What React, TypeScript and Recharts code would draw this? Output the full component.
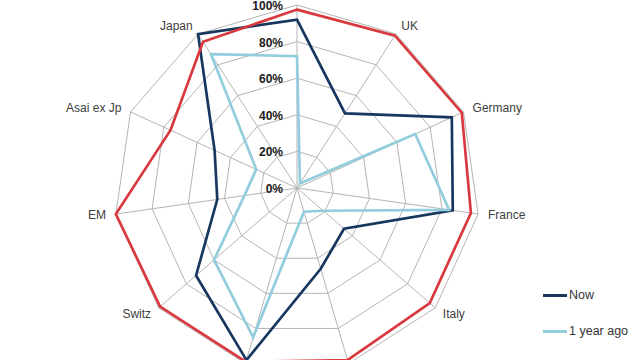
import React from 'react';
import { RadarChart, Radar, PolarGrid, PolarAngleAxis, PolarRadiusAxis, Legend } from 'recharts';

const categories = ['US', 'UK', 'Germany', 'France', 'Italy', 'Spain', 'Nordics', 'Switz', 'EM', 'Asai ex Jp', 'Japan'];
const nowValues = [92, 48.5, 93, 86, 34, 46, 98, 73, 44, 49.5, 100];
const yearAgoValues = [72, 3, 71, 84, 19, 13.5, 85, 60, 29, 24.5, 87];
const maxValues = [97.5, 99, 99, 96, 96, 98, 99, 99, 100, 76, 95];
const radiusTicks = [0, 20, 40, 60, 80, 100];

const data = categories.map((c, i) => ({
  category: c,
  now: nowValues[i],
  ago: yearAgoValues[i],
  max: maxValues[i],
}));

const NAVY = '#17375e';
const LIGHT = '#93cddd';
const RED = '#d9393e';
const FONT = '"Liberation Sans", Arial, sans-serif';
const W = 640;
const H = 360;

const AngleTick = (props: any) => {
  const { x, y, textAnchor, payload } = props;
  // labels that fall outside the picture are cropped away in the reference
  if (y < 6 || y > H - 6) return <g />;
  return (
    <text x={x} y={y} textAnchor={textAnchor} dominantBaseline="central" fontSize={12} fontFamily={FONT} fill="#404040">
      {payload.value}
    </text>
  );
};

const RadiusTick = (props: any) => {
  const { x, y, payload } = props;
  return (
    <text x={x - 14} y={y + 1} textAnchor="end" dominantBaseline="central" fontSize={12} fontWeight="bold" fontFamily={FONT} fill="#1a1a1a">
      {payload.value}%
    </text>
  );
};

const LegendContent = () => (
  <div style={{ fontFamily: FONT, fontSize: 12.5, color: '#333' }}>
    {[{ label: 'Now', color: NAVY }, { label: '1 year ago', color: LIGHT }].map((it, i) => (
      <div key={it.label} style={{ display: 'flex', alignItems: 'center', height: 20, marginBottom: i === 0 ? 16 : 0 }}>
        <span style={{ display: 'inline-block', width: 24, height: 3, background: it.color, marginRight: 2 }} />
        <span>{it.label}</span>
      </div>
    ))}
  </div>
);

export default function App() {
  return (
    <div style={{ position: 'absolute', left: 0, top: 0, width: W, height: H, background: '#fff', overflow: 'hidden' }}>
      <RadarChart width={W} height={H} data={data} cx={297} cy={188} outerRadius={183} margin={{ top: 0, right: 0, bottom: 0, left: 0 }}>
        <PolarGrid gridType="polygon" stroke="#b5b5b5" strokeWidth={1} />
        <PolarAngleAxis dataKey="category" tick={<AngleTick />} tickSize={10} tickLine={false} axisLine={false} />
        <PolarRadiusAxis angle={90} domain={[0, 100]} ticks={radiusTicks} tick={<RadiusTick />} axisLine={false} tickLine={false} />
        <Radar name="Now" dataKey="now" stroke={NAVY} strokeWidth={2.7} fill="none" fillOpacity={0} dot={false} isAnimationActive={false} />
        <Radar name="1 year ago" dataKey="ago" stroke={LIGHT} strokeWidth={2.7} fill="none" fillOpacity={0} dot={false} isAnimationActive={false} />
        <Radar name="Max" dataKey="max" stroke={RED} strokeWidth={2.7} fill="none" fillOpacity={0} dot={false} isAnimationActive={false} legendType="none" />
        <Legend content={<LegendContent />} wrapperStyle={{ position: 'absolute', left: 543, top: 285, width: 100 }} />
      </RadarChart>
    </div>
  );
}
